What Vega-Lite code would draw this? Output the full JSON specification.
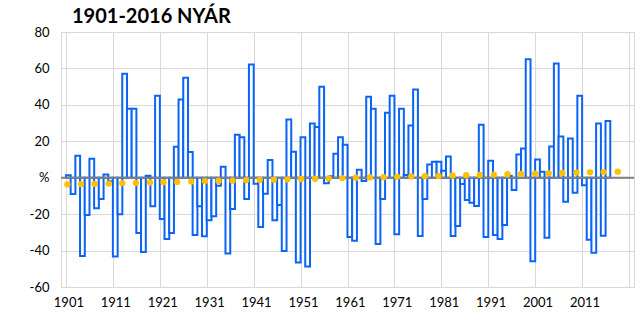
{
  "$schema": "https://vega.github.io/schema/vega-lite/v6.json",
  "width": 573,
  "height": 255,
  "autosize": "none",
  "padding": {"left": 61, "top": 32, "right": 6, "bottom": 44},
  "background": "white",
  "title": {"text": "1901-2016 NYÁR", "anchor": "start", "frame": "group", "dx": 11, "offset": -1, "font": "Lato", "fontSize": 20, "fontWeight": "bold", "color": "black"},
  "config": {
    "view": {"stroke": "#d9d9d9"},
    "axis": {"labelFont": "Lato", "labelFontSize": 13, "labelColor": "black", "gridColor": "#d9d9d9", "gridWidth": 1, "domain": false, "ticks": false, "title": null, "labelOverlap": false}
  },
  "datasets": {
    "summer": [
      {"year":1901,"value":1.3},{"year":1902,"value":-9},{"year":1903,"value":12.1},{"year":1904,"value":-43},{"year":1905,"value":-20.5},
      {"year":1906,"value":10.4},{"year":1907,"value":-16.7},{"year":1908,"value":-11.7},{"year":1909,"value":1.8},{"year":1910,"value":-2},
      {"year":1911,"value":-43.2},{"year":1912,"value":-20},{"year":1913,"value":57.1},{"year":1914,"value":37.9},{"year":1915,"value":37.9},
      {"year":1916,"value":-30.4},{"year":1917,"value":-40.8},{"year":1918,"value":1.1},{"year":1919,"value":-15.6},{"year":1920,"value":45},
      {"year":1921,"value":-22.7},{"year":1922,"value":-33.7},{"year":1923,"value":-30.4},{"year":1924,"value":17},{"year":1925,"value":42.9},
      {"year":1926,"value":54.9},{"year":1927,"value":14.1},{"year":1928,"value":-31.5},{"year":1929,"value":-15.6},{"year":1930,"value":-32.2},
      {"year":1931,"value":-23.3},{"year":1932,"value":-21.2},{"year":1933,"value":-4.4},{"year":1934,"value":6},{"year":1935,"value":-41.6},
      {"year":1936,"value":-17.2},{"year":1937,"value":23.6},{"year":1938,"value":22.2},{"year":1939,"value":-11.7},{"year":1940,"value":62.1},
      {"year":1941,"value":-3.3},{"year":1942,"value":-27.1},{"year":1943,"value":-8.8},{"year":1944,"value":9.7},{"year":1945,"value":-23.3},
      {"year":1946,"value":-15},{"year":1947,"value":-40.3},{"year":1948,"value":32},{"year":1949,"value":14.3},{"year":1950,"value":-46.5},
      {"year":1951,"value":22.2},{"year":1952,"value":-48.7},{"year":1953,"value":29.7},{"year":1954,"value":27.8},{"year":1955,"value":50},
      {"year":1956,"value":-3.1},{"year":1957,"value":0.8},{"year":1958,"value":13.2},{"year":1959,"value":22.2},{"year":1960,"value":18.1},
      {"year":1961,"value":-32.6},{"year":1962,"value":-34.6},{"year":1963,"value":4.4},{"year":1964,"value":-1.8},{"year":1965,"value":44.5},
      {"year":1966,"value":37.9},{"year":1967,"value":-36.4},{"year":1968,"value":-11.7},{"year":1969,"value":35.7},{"year":1970,"value":45},
      {"year":1971,"value":-31},{"year":1972,"value":37.9},{"year":1973,"value":1.5},{"year":1974,"value":28.6},{"year":1975,"value":48.4},
      {"year":1976,"value":-32},{"year":1977,"value":-11.7},{"year":1978,"value":7.3},{"year":1979,"value":8.8},{"year":1980,"value":8.8},
      {"year":1981,"value":3.8},{"year":1982,"value":11.7},{"year":1983,"value":-32},{"year":1984,"value":-26.5},{"year":1985,"value":-3.4},
      {"year":1986,"value":-12.3},{"year":1987,"value":-13.8},{"year":1988,"value":-15.5},{"year":1989,"value":29.1},{"year":1990,"value":-32.5},
      {"year":1991,"value":9.3},{"year":1992,"value":-31.4},{"year":1993,"value":-33.7},{"year":1994,"value":-25.9},{"year":1995,"value":1},
      {"year":1996,"value":-6.8},{"year":1997,"value":12.7},{"year":1998,"value":16},{"year":1999,"value":65},{"year":2000,"value":-45.8},
      {"year":2001,"value":10},{"year":2002,"value":3.3},{"year":2003,"value":-33},{"year":2004,"value":17.1},{"year":2005,"value":62.7},
      {"year":2006,"value":22.6},{"year":2007,"value":-13.2},{"year":2008,"value":21.5},{"year":2009,"value":-8.2},{"year":2010,"value":45},
      {"year":2011,"value":-4.1},{"year":2012,"value":-34.1},{"year":2013,"value":-41.2},{"year":2014,"value":29.7},{"year":2015,"value":-31.8},
      {"year":2016,"value":31.2}
    ],
    "trend": [
      {"year":1900.8,"value":-3.7},{"year":1903.7,"value":-3.5},{"year":1906.6,"value":-3.4},{"year":1909.6,"value":-3.2},{"year":1912.5,"value":-3.0},
      {"year":1915.4,"value":-2.8},{"year":1918.4,"value":-2.65},{"year":1921.3,"value":-2.5},{"year":1924.2,"value":-2.3},{"year":1927.2,"value":-2.1},
      {"year":1930.1,"value":-1.95},{"year":1933.0,"value":-1.8},{"year":1936.0,"value":-1.6},{"year":1938.9,"value":-1.4},{"year":1941.8,"value":-1.25},
      {"year":1944.8,"value":-1.1},{"year":1947.7,"value":-0.9},{"year":1950.6,"value":-0.7},{"year":1953.6,"value":-0.55},{"year":1956.5,"value":-0.4},
      {"year":1959.4,"value":-0.2},{"year":1962.3,"value":0},{"year":1965.3,"value":0.15},{"year":1968.2,"value":0.3},{"year":1971.1,"value":0.5},
      {"year":1974.1,"value":0.7},{"year":1977.0,"value":0.85},{"year":1979.9,"value":1.0},{"year":1982.9,"value":1.2},{"year":1985.8,"value":1.4},
      {"year":1988.7,"value":1.55},{"year":1991.7,"value":1.7},{"year":1994.6,"value":1.9},{"year":1997.5,"value":2.1},{"year":2000.5,"value":2.25},
      {"year":2003.4,"value":2.4},{"year":2006.3,"value":2.6},{"year":2009.3,"value":2.8},{"year":2012.2,"value":2.95},{"year":2015.1,"value":3.1},
      {"year":2018.1,"value":3.3}
    ],
    "zero": [{"year": 1950, "value": 0}]
  },
  "encoding": {
    "x": {"field": "year", "type": "quantitative",
          "scale": {"domain": [1900.5, 2020.5], "nice": false, "zero": false},
          "axis": {"values": [1900.5,1910.5,1920.5,1930.5,1940.5,1950.5,1960.5,1970.5,1980.5,1990.5,2000.5,2010.5,2020.5],
                   "labelExpr": "datum.value > 2020 ? '' : '' + (datum.value + 0.5)",
                   "labelOffset": 2.4, "labelPadding": 9, "grid": true, "labelFlush": false, "labelOverlap": false}},
    "y": {"field": "value", "type": "quantitative", "stack": null,
          "scale": {"domain": [-60, 80], "nice": false},
          "axis": {"values": [-60,-40,-20,0,20,40,60,80], "labelExpr": "datum.value == 0 ? '%\u00a0\u00a0' : '' + datum.value", "labelPadding": 12, "grid": true, "labelFlush": false, "labelOverlap": false, "labelBound": false}}
  },
  "layer": [
    {
      "data": {"name": "summer"},
      "mark": {"type": "bar", "width": 4.775, "fill": "white", "stroke": "#0a64f5", "strokeWidth": 2}
    },
    {
      "data": {"name": "zero"},
      "mark": {"type": "rule", "color": "#808080", "strokeWidth": 2},
      "encoding": {"x": {"value": 0}, "x2": {"value": 573}}
    },
    {
      "data": {"name": "trend"},
      "mark": {"type": "circle", "size": 40, "color": "#ffc000", "opacity": 1}
    }
  ]
}
